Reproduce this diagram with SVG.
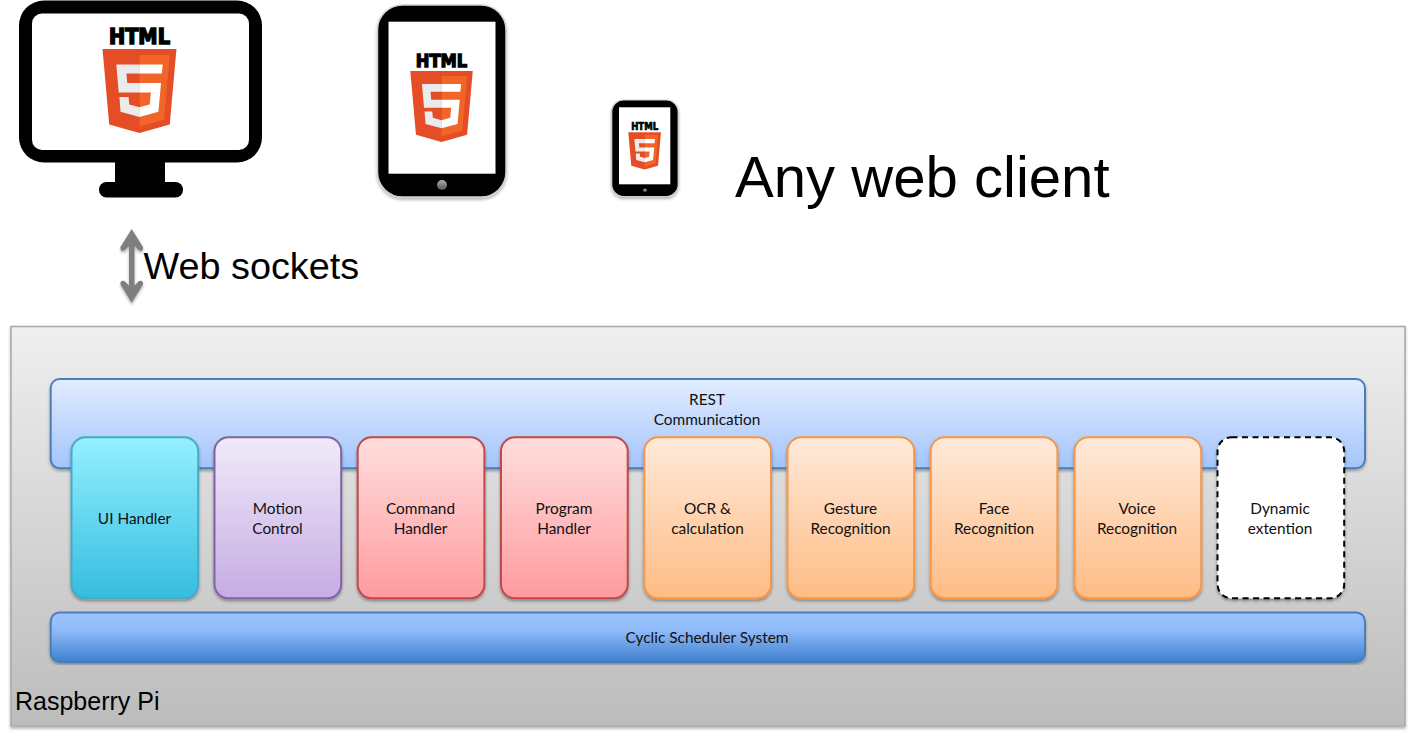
<svg xmlns="http://www.w3.org/2000/svg" width="1410" height="735" viewBox="0 0 1410 735">
<style>
.box{stroke-width:2}
.lbl{font-family:"Lato","Carlito","Open Sans",sans-serif;font-size:15.4px;fill:#111;text-anchor:middle}
.big{font-family:"Liberation Sans",Arial,sans-serif;fill:#000}
.s1{fill:#e44d26}.s2{fill:#f16529}.s3{fill:#ebebeb}.s4{fill:#fff}
.h{font-family:"DejaVu Sans",sans-serif;font-weight:700;font-size:133px;fill:#000;stroke:#000;stroke-width:10px}
</style>
<defs>
<filter id="sh" x="-5%" y="-5%" width="110%" height="115%"><feDropShadow dx="0" dy="2" stdDeviation="1.500" flood-color="#000" flood-opacity=".35"/></filter>
<filter id="shl" x="-5%" y="-5%" width="110%" height="110%"><feDropShadow dx="0" dy="2" stdDeviation="1.500" flood-color="#000" flood-opacity=".3"/></filter>
<linearGradient id="gP" x1="0" y1="0" x2="0" y2="1"><stop offset="0" stop-color="#efefef"/><stop offset="1" stop-color="#bcbcbc"/></linearGradient>
<linearGradient id="gR" x1="0" y1="0" x2="0" y2="1"><stop offset="0" stop-color="#e2edff"/><stop offset="1" stop-color="#a3c4fb"/></linearGradient>
<linearGradient id="gC" x1="0" y1="0" x2="0" y2="1"><stop offset="0" stop-color="#9dc3ff"/><stop offset=".35" stop-color="#90bbf9"/><stop offset="1" stop-color="#3f80cf"/></linearGradient>
<linearGradient id="gU" x1="0" y1="0" x2="0" y2="1"><stop offset="0" stop-color="#94f0ff"/><stop offset="1" stop-color="#35bde0"/></linearGradient>
<linearGradient id="gM" x1="0" y1="0" x2="0" y2="1"><stop offset="0" stop-color="#f0eafa"/><stop offset="1" stop-color="#c6ace3"/></linearGradient>
<linearGradient id="gD" x1="0" y1="0" x2="0" y2="1"><stop offset="0" stop-color="#ffdedd"/><stop offset="1" stop-color="#ff9b9f"/></linearGradient>
<linearGradient id="gO" x1="0" y1="0" x2="0" y2="1"><stop offset="0" stop-color="#ffeadb"/><stop offset="1" stop-color="#ffbc84"/></linearGradient>
<linearGradient id="gB" x1="0" y1="0" x2="0" y2="1"><stop offset="0" stop-color="#aaa"/><stop offset="1" stop-color="#555"/></linearGradient>
</defs>

<g id="desktop-client">
<path d="M115 160h50v24h-50z"/>
<rect x="99" y="182" width="84" height="15.500" rx="7.500"/>
<rect x="19" y="0.500" width="243" height="162" rx="25"/>
<rect x="32" y="13.500" width="217" height="136.500" rx="10" fill="#fff"/>
<g transform="translate(102.500 49) scale(.164) translate(-30 0)">
<text class="h" x="255.500" y="-30" text-anchor="middle" textLength="372" lengthAdjust="spacingAndGlyphs">HTML</text>
<path class="s1" d="M71 460 30 0h451l-41 460-185 52z"/><path class="s2" d="M256 472l149-41 35-394H256z"/>
<path class="s3" d="M256 208h-75l-5-58h80V94H114l15 171h127zM256 355l-63-17-4-45h-56l7 89 116 32z"/>
<path class="s4" d="M255 208v57h70l-7 73-63 17v59l116-32 16-174zM255 94v56h137l5-56z"/>
</g>
</g>

<g id="tablet-client">
<rect x="377.500" y="5" width="128.500" height="192" rx="25" stroke="#d0d0d0" stroke-width="1.500" filter="url(#shl)"/>
<rect x="388.500" y="21.700" width="107" height="152" fill="#fff"/>
<circle cx="442" cy="185" r="5" fill="url(#gB)"/>
<g transform="translate(410.300 71) scale(.1385) translate(-30 0)">
<text class="h" x="255.500" y="-30" text-anchor="middle" textLength="372" lengthAdjust="spacingAndGlyphs">HTML</text>
<path class="s1" d="M71 460 30 0h451l-41 460-185 52z"/><path class="s2" d="M256 472l149-41 35-394H256z"/>
<path class="s3" d="M256 208h-75l-5-58h80V94H114l15 171h127zM256 355l-63-17-4-45h-56l7 89 116 32z"/>
<path class="s4" d="M255 208v57h70l-7 73-63 17v59l116-32 16-174zM255 94v56h137l5-56z"/>
</g>
</g>

<g id="phone-client">
<rect x="611.700" y="100" width="66.500" height="96.500" rx="12" stroke="#d0d0d0" stroke-width="1.200" filter="url(#shl)"/>
<rect x="619" y="107.300" width="51.300" height="77" fill="#fff"/>
<circle cx="645" cy="190.300" r="1.800" fill="url(#gB)"/>
<g transform="translate(628.300 132.300) scale(.0725) translate(-30 0)">
<text class="h" x="255.500" y="-30" text-anchor="middle" textLength="372" lengthAdjust="spacingAndGlyphs">HTML</text>
<path class="s1" d="M71 460 30 0h451l-41 460-185 52z"/><path class="s2" d="M256 472l149-41 35-394H256z"/>
<path class="s3" d="M256 208h-75l-5-58h80V94H114l15 171h127zM256 355l-63-17-4-45h-56l7 89 116 32z"/>
<path class="s4" d="M255 208v57h70l-7 73-63 17v59l116-32 16-174zM255 94v56h137l5-56z"/>
</g>
</g>

<text id="any-web-client" class="big" x="735" y="197" font-size="58.100">Any web client</text>
<text id="web-sockets-label" class="big" x="143.500" y="279" font-size="37.800">Web sockets</text>

<g id="connectors">
<path id="web-sockets-arrow" fill="#7f7f7f" filter="url(#shl)" d="M131.700 229 143 247Q143.500 252 139 250.500L134.500 246V285.500L139 281Q143.500 280 143 284.500L131.700 303 120.500 284.500Q120 280 124.500 281L129 285.500V246L124.500 250.500Q120 252 120.500 247Z"/>
</g>

<g id="raspberry-pi">
<rect x="11" y="326.500" width="1394" height="399.500" fill="url(#gP)" stroke="#a8a8a8" stroke-width="1.500" filter="url(#shl)"/>
<text class="big" x="15" y="710" font-size="25">Raspberry Pi</text>
</g>

<g id="rest-communication">
<rect class="box" x="50.700" y="379" width="1314.300" height="89.300" rx="9" fill="url(#gR)" stroke="#4a7ebb" filter="url(#shl)"/>
<text class="lbl" x="707" y="405">REST</text><text class="lbl" x="707" y="425">Communication</text>
</g>

<g id="cyclic-scheduler">
<rect class="box" x="50.700" y="612.400" width="1314.300" height="49.600" rx="9" fill="url(#gC)" stroke="#4a7ebb" filter="url(#shl)"/>
<text class="lbl" x="707" y="643">Cyclic Scheduler System</text>
</g>

<g id="ui-handler"><rect class="box" x="71.500" y="437.300" width="126.700" height="161" rx="14" fill="url(#gU)" stroke="#46aac5" filter="url(#sh)"/><text class="lbl" x="134.500" y="524">UI Handler</text></g>
<g id="motion-control"><rect class="box" x="214.500" y="437.300" width="126.700" height="161" rx="14" fill="url(#gM)" stroke="#8064a2" filter="url(#sh)"/><text class="lbl" x="277.500" y="514">Motion</text><text class="lbl" x="277.500" y="534">Control</text></g>
<g id="command-handler"><rect class="box" x="357.700" y="437.300" width="126.700" height="161" rx="14" fill="url(#gD)" stroke="#be4b48" filter="url(#sh)"/><text class="lbl" x="420.500" y="514">Command</text><text class="lbl" x="420.500" y="534">Handler</text></g>
<g id="program-handler"><rect class="box" x="501" y="437.300" width="126.700" height="161" rx="14" fill="url(#gD)" stroke="#be4b48" filter="url(#sh)"/><text class="lbl" x="564" y="514">Program</text><text class="lbl" x="564" y="534">Handler</text></g>
<g id="ocr-calculation"><rect class="box" x="644.300" y="437.300" width="126.700" height="161" rx="14" fill="url(#gO)" stroke="#f79646" filter="url(#sh)"/><text class="lbl" x="707.500" y="514">OCR &amp;</text><text class="lbl" x="707.500" y="534">calculation</text></g>
<g id="gesture-recognition"><rect class="box" x="787.500" y="437.300" width="126.700" height="161" rx="14" fill="url(#gO)" stroke="#f79646" filter="url(#sh)"/><text class="lbl" x="850.500" y="514">Gesture</text><text class="lbl" x="850.500" y="534">Recognition</text></g>
<g id="face-recognition"><rect class="box" x="930.700" y="437.300" width="126.700" height="161" rx="14" fill="url(#gO)" stroke="#f79646" filter="url(#sh)"/><text class="lbl" x="994" y="514">Face</text><text class="lbl" x="994" y="534">Recognition</text></g>
<g id="voice-recognition"><rect class="box" x="1074.500" y="437.300" width="126.700" height="161" rx="14" fill="url(#gO)" stroke="#f79646" filter="url(#sh)"/><text class="lbl" x="1137" y="514">Voice</text><text class="lbl" x="1137" y="534">Recognition</text></g>
<g id="dynamic-extention"><rect class="box" x="1217.500" y="437.300" width="126.700" height="161" rx="14" fill="#fff" stroke="#000" stroke-dasharray="6 4.500" filter="url(#sh)"/><text class="lbl" x="1280" y="514">Dynamic</text><text class="lbl" x="1280" y="534">extention</text></g>
</svg>
